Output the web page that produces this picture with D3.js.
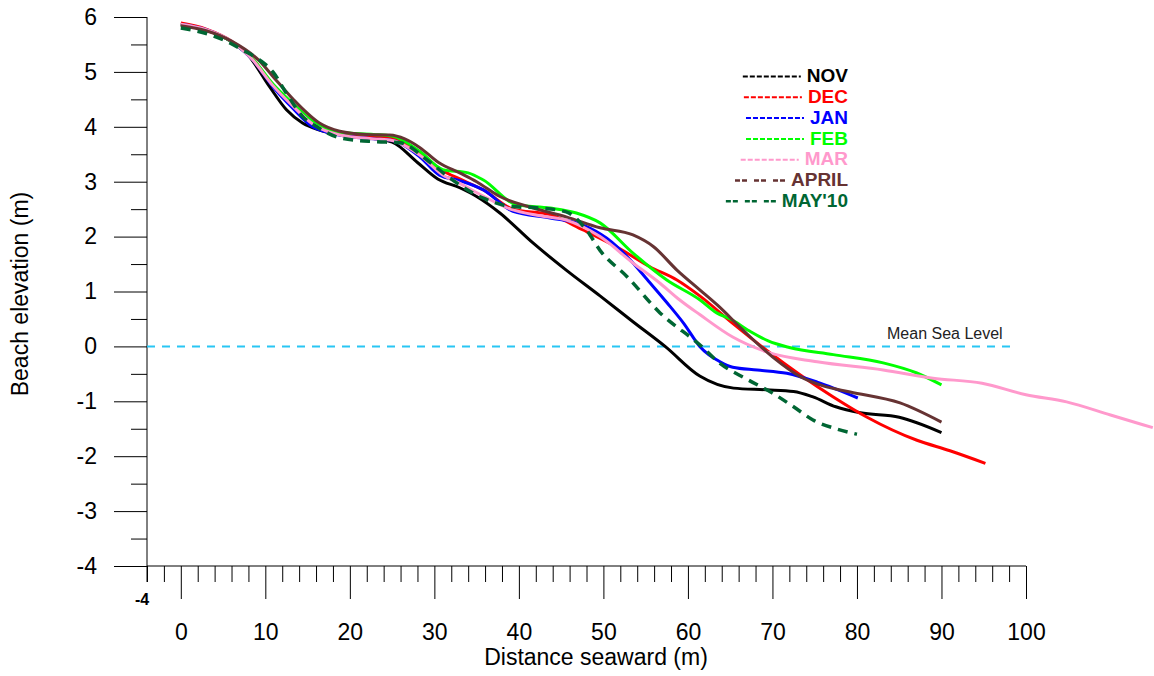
<!DOCTYPE html>
<html>
<head>
<meta charset="utf-8">
<script src="https://cdn.jsdelivr.net/npm/d3@7/dist/d3.min.js"></script>
<style>
  html, body { margin: 0; padding: 0; background: #fff; }
  svg { display: block; font-family: Arial, "Liberation Sans", sans-serif; }
</style>
</head>
<body>
<svg id="chart" width="1154" height="676"></svg>
<script>
// ---- data (distance seaward m, beach elevation m) ----
const nov = [[0,5.86],[3,5.76],[6,5.55],[8,5.3],[10.5,4.73],[12.5,4.31],[14.4,4.07],[16.4,3.94],[19,3.85],[22,3.8],[25,3.72],[28,3.35],[30.4,3.05],[33,2.89],[35,2.73],[37.75,2.43],[41.7,1.88],[45.6,1.39],[49.6,0.92],[53.5,0.45],[57.3,0.0],[61.4,-0.54],[65.4,-0.76],[69.3,-0.79],[72.5,-0.82],[74.8,-0.92],[77.5,-1.1],[80.4,-1.21],[85,-1.29],[90,-1.57]];
const dec = [[0,5.89],[3,5.78],[6,5.56],[8.5,5.24],[10.9,4.75],[13.3,4.38],[15.6,4.07],[18.8,3.89],[22.8,3.82],[25,3.8],[28.3,3.5],[31,3.2],[33,3.05],[35.8,2.85],[39.3,2.5],[43.7,2.4],[47.6,2.12],[51.6,1.81],[55.5,1.45],[58.7,1.21],[61.4,0.92],[65.3,0.42],[69.3,-0.07],[73.3,-0.52],[77.2,-0.92],[81.2,-1.29],[87.1,-1.71],[91,-1.9],[95.2,-2.13]];
const jan = [[0,5.87],[3,5.77],[6,5.55],[8.5,5.22],[10.9,4.73],[13.3,4.33],[15.6,4.0],[18.8,3.85],[22.8,3.78],[25,3.75],[28.3,3.45],[30.6,3.12],[33,3.02],[35.8,2.85],[39.3,2.46],[43.7,2.34],[47.6,2.21],[50.4,1.97],[53.5,1.52],[55,1.25],[57.5,0.8],[59.5,0.42],[61.4,0.0],[63.8,-0.28],[65.3,-0.38],[68.2,-0.43],[71.7,-0.49],[75.3,-0.65],[80.1,-0.94]];
const feb = [[0,5.86],[3,5.76],[6,5.55],[8.5,5.24],[10.9,4.78],[13.3,4.42],[15.6,4.1],[18.8,3.9],[22.8,3.86],[25,3.83],[28.3,3.55],[31,3.22],[34,3.16],[35.8,3.03],[39.7,2.58],[43.7,2.52],[46.8,2.43],[49.6,2.25],[53.5,1.7],[57.5,1.21],[61.4,0.85],[63.4,0.61],[65,0.5],[67.3,0.28],[69.5,0.1],[72,-0.02],[77.2,-0.15],[83.1,-0.3],[87,-0.48],[90,-0.7]];
const mar = [[0,5.87],[3,5.77],[6,5.56],[8.5,5.22],[10.9,4.75],[13.3,4.37],[15.6,4.05],[18.8,3.85],[22.8,3.78],[25,3.75],[28.3,3.48],[31,3.12],[33,2.97],[36,2.72],[39,2.5],[42.5,2.38],[45.6,2.3],[49.6,2.0],[53.5,1.52],[56.7,1.15],[59,0.85],[61.4,0.58],[65.3,0.17],[69.3,-0.1],[75.3,-0.28],[83.1,-0.43],[89,-0.58],[94.8,-0.67],[100,-0.88],[104.8,-1.01],[110,-1.25],[115,-1.48]];
const april = [[0,5.84],[3,5.75],[6,5.56],[9.3,5.2],[11,4.9],[13.3,4.5],[16.4,4.07],[18.8,3.92],[22,3.86],[24.7,3.85],[26.5,3.78],[28.3,3.62],[30.5,3.35],[33,3.16],[35,3.0],[37.75,2.73],[41.7,2.52],[45.6,2.36],[49.6,2.16],[53.5,2.03],[55.9,1.82],[58.7,1.39],[61.4,1.03],[63.5,0.75],[66.5,0.3],[70,-0.19],[73.3,-0.55],[76,-0.72],[79.2,-0.83],[85.1,-1.03],[90,-1.38]];
const may10 = [[0,5.8],[3.4,5.68],[5.5,5.55],[7.3,5.4],[9.3,5.22],[10.9,5.0],[12.5,4.61],[14.4,4.19],[16.1,4.0],[18.8,3.8],[22.8,3.73],[25.9,3.71],[29.1,3.4],[31.8,3.07],[35.8,2.7],[39,2.55],[42.5,2.52],[45.6,2.45],[48,2.12],[49.6,1.75],[52.8,1.27],[56.7,0.61],[61.4,0.03],[63.8,-0.31],[67,-0.6],[70,-0.85],[72.5,-1.1],[74.8,-1.34],[77.5,-1.5],[80,-1.6]];

const seriesNames = ["NOV","DEC","JAN","FEB","MAR","APRIL","MAY'10"];
const seriesData = [nov, dec, jan, feb, mar, april, may10];
const seriesColors = ["#000000","#ff0000","#0000ff","#00ff00","#ff99cc","#663333","#006633"];

const xMajorTicks = [0,10,20,30,40,50,60,70,80,90,100];
const yMajorTicks = [-4,-3,-2,-1,0,1,2,3,4,5,6];
const mslLevel = 0;
const mslLabel = "Mean Sea Level";
const xTitle = "Distance seaward (m)";
const yTitle = "Beach elevation (m)";

// ---- layout ----
const svg = d3.select("#chart");
const x = d3.scaleLinear().domain([-4, 100]).range([147, 1026]);
const y = d3.scaleLinear().domain([-4, 6]).range([566, 17]);
const fmt = d => String(d);

const xMinor = d3.range(-4, 101, 2).filter(v => v % 10 !== 0);
const yMinor = d3.range(-3.5, 6, 1);

// minor x ticks
svg.append("g").attr("transform", `translate(0,${y(-4)})`)
  .call(d3.axisBottom(x).tickValues(xMinor).tickSize(16).tickFormat(""))
  .call(g => g.select(".domain").remove())
  .call(g => g.selectAll("line").attr("stroke", "#000"));
// major x ticks
svg.append("g").attr("transform", `translate(0,${y(-4)})`)
  .call(d3.axisBottom(x).tickValues(xMajorTicks).tickSize(33).tickPadding(25).tickFormat(fmt))
  .call(g => g.select(".domain").remove())
  .call(g => g.selectAll("line").attr("stroke", "#000"))
  .call(g => g.selectAll("text").attr("font-size", 23).attr("fill", "#000").attr("font-family", "Arial, 'Liberation Sans', sans-serif"));

// minor y ticks
svg.append("g").attr("transform", `translate(${x(-4)},0)`)
  .call(d3.axisLeft(y).tickValues(yMinor).tickSize(16).tickFormat(""))
  .call(g => g.select(".domain").remove())
  .call(g => g.selectAll("line").attr("stroke", "#000"));
// major y ticks
svg.append("g").attr("transform", `translate(${x(-4)},0)`)
  .call(d3.axisLeft(y).tickValues(yMajorTicks).tickSize(33).tickPadding(17).tickFormat(fmt))
  .call(g => g.select(".domain").remove())
  .call(g => g.selectAll("line").attr("stroke", "#000"))
  .call(g => g.selectAll("text").attr("font-size", 23).attr("fill", "#000").attr("font-family", "Arial, 'Liberation Sans', sans-serif"));

// axis lines
svg.append("line").attr("x1", x(-4)).attr("x2", x(-4)).attr("y1", y(6)).attr("y2", y(-4)).attr("stroke", "#000");
svg.append("line").attr("x1", x(-4)).attr("x2", x(100)).attr("y1", y(-4)).attr("y2", y(-4)).attr("stroke", "#000");
svg.append("line").attr("x1", x(-4)).attr("x2", x(-4)).attr("y1", y(-4)).attr("y2", y(-4) + 16).attr("stroke", "#000");

// "-4" label on x axis origin
svg.append("text").attr("x", x(-4) - 5).attr("y", 605).attr("text-anchor", "middle")
  .attr("font-size", 16).attr("font-weight", "bold").text("-4");

// titles
svg.append("text").attr("x", 596).attr("y", 665).attr("text-anchor", "middle")
  .attr("font-size", 23).text(xTitle);
svg.append("text").attr("transform", "translate(28,294) rotate(-90)").attr("text-anchor", "middle")
  .attr("font-size", 23).text(yTitle);

// mean sea level
svg.append("line").attr("x1", x(-4)).attr("x2", 1017).attr("y1", y(mslLevel)).attr("y2", y(mslLevel))
  .attr("stroke", "#29c6f4").attr("stroke-width", 2).attr("stroke-dasharray", "8,7");
svg.append("text").attr("x", 887).attr("y", y(mslLevel) - 7).attr("font-size", 16).attr("fill", "#222").text(mslLabel);

// profiles
const line = d3.line().x(d => x(d[0])).y(d => y(d[1])).curve(d3.curveMonotoneX);
seriesData.forEach((data, i) => {
  const isDashed = i === 6;
  svg.append("path").datum(data)
    .attr("d", line)
    .attr("fill", "none")
    .attr("stroke", seriesColors[i])
    .attr("stroke-width", isDashed ? 3.5 : 3)
    .attr("stroke-linecap", "butt")
    .attr("stroke-dasharray", isDashed ? "10,7" : null);
});

// legend
const legendRight = 848, legendTop = 75.5, legendStep = 20.8;
seriesNames.forEach((name, i) => {
  const yy = legendTop + i * legendStep;
  const t = svg.append("text").attr("x", legendRight).attr("y", yy).attr("dy", "0.35em")
    .attr("text-anchor", "end").attr("font-size", 19).attr("font-weight", "bold")
    .attr("fill", seriesColors[i]).text(name);
  const w = t.node().getComputedTextLength();
  const startText = legendRight - w;
  const wide = i >= 5;
  const len = wide ? 50 : 58;
  svg.append("line").attr("x1", startText - 6 - len).attr("x2", startText - 6)
    .attr("y1", yy + 1).attr("y2", yy + 1)
    .attr("stroke", seriesColors[i]).attr("stroke-width", wide ? 2.5 : 2)
    .attr("stroke-dasharray", wide ? "5,2,5,7" : "5,2");
});
</script>
</body>
</html>
